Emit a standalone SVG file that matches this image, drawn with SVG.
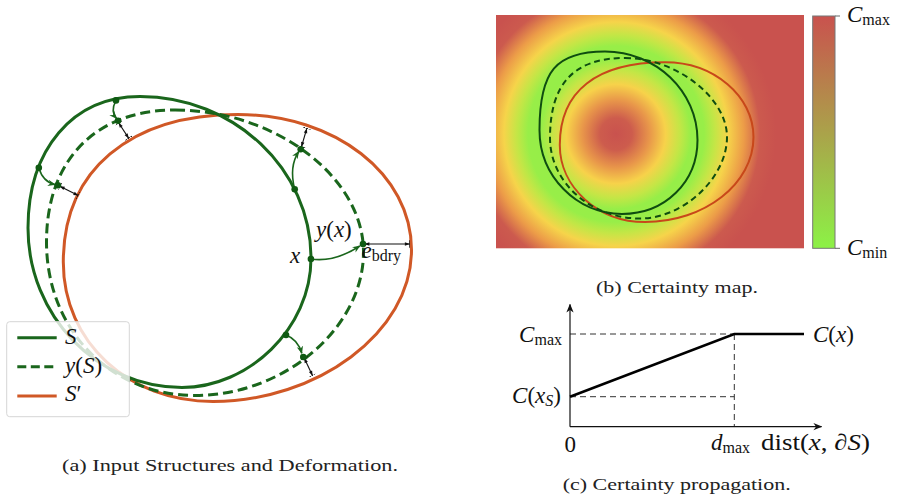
<svg xmlns="http://www.w3.org/2000/svg" width="901" height="504" viewBox="0 0 901 504">
<defs>
<style>
.math{font-family:"Liberation Serif","Times New Roman",serif;font-size:23px;fill:#111}
.it{font-style:italic}
.sub{font-size:16px}
.cap{font-family:"Liberation Serif","Times New Roman",serif;font-size:17px;fill:#222}
.S{fill:none;stroke:#1a661c;stroke-width:3}
.yS{fill:none;stroke:#1a661c;stroke-width:3;stroke-dasharray:10 5}
.Sp{fill:none;stroke:#d05826;stroke-width:3}
.bS{fill:none;stroke:#0f4d10;stroke-width:2}
.byS{fill:none;stroke:#0f4d10;stroke-width:2;stroke-dasharray:6 4}
.bSp{fill:none;stroke:#c8481a;stroke-width:2}
.map{fill:none;stroke:#1a661c;stroke-width:1.6;marker-end:url(#gArrow)}
.err{fill:none;stroke:#111;stroke-width:1.1;marker-start:url(#errEnd);marker-end:url(#errEnd)}
.dot{fill:#0f5a12}
.axis{fill:none;stroke:#111;stroke-width:1.2;marker-end:url(#axArrow)}
.guide{fill:none;stroke:#333;stroke-width:1;stroke-dasharray:6 4}
</style>
<marker id="gArrow" viewBox="0 0 10 10" refX="9" refY="5" markerWidth="8" markerHeight="8" markerUnits="userSpaceOnUse" orient="auto"><path d="M0,1 L10,5 L0,9 L3,5 Z" fill="#1a661c"/></marker>
<marker id="errEnd" viewBox="0 0 10 12" refX="10" refY="6" markerWidth="7" markerHeight="8.4" markerUnits="userSpaceOnUse" orient="auto-start-reverse"><path d="M3,3.5 L10,6 L3,8.5 Z" fill="#111"/><path d="M10,0.5 V11.5" stroke="#111" stroke-width="1.5"/></marker>
<marker id="axArrow" viewBox="0 0 10 10" refX="9" refY="5" markerWidth="9" markerHeight="9" markerUnits="userSpaceOnUse" orient="auto"><path d="M0,1 L10,5 L0,9 L3,5 Z" fill="#111"/></marker>
<radialGradient id="heat" gradientUnits="userSpaceOnUse" cx="616" cy="134" r="160">
<stop offset="0" stop-color="#c9524e"/>
<stop offset="0.1" stop-color="#cd5c4d"/>
<stop offset="0.21" stop-color="#e8964a"/>
<stop offset="0.31" stop-color="#f7d24a"/>
<stop offset="0.4" stop-color="#c4e646"/>
<stop offset="0.47" stop-color="#96ee48"/>
<stop offset="0.55" stop-color="#98ee48"/>
<stop offset="0.62" stop-color="#c4e646"/>
<stop offset="0.7" stop-color="#f6d44a"/>
<stop offset="0.8" stop-color="#ec9c48"/>
<stop offset="0.9" stop-color="#cc5a4e"/>
<stop offset="1" stop-color="#c9524e"/>
</radialGradient>
<linearGradient id="cbar" x1="0" y1="0" x2="0" y2="1">
<stop offset="0" stop-color="#c9524e"/>
<stop offset="1" stop-color="#8cf246"/>
</linearGradient>
</defs>
<rect width="901" height="504" fill="#fff"/>

<!-- Panel (a) -->
<g id="panel-a">
<g id="curve-Sprime">
<path class="Sp" d="M238,114.5 C335.2,114.5 411.5,174.1 411.5,250 C411.5,333.3 316.2,401.5 213,401.5 C129.2,401.5 63.3,342.9 63.3,262 C63.3,170.6 129.7,114.5 238,114.5 Z"/>
</g>
<g id="curve-yS">
<path class="yS" d="M175,110 C275,110 363.5,177 363.5,252 C363.5,328 284.3,395.5 195,395.5 C110.4,395.5 46.5,329.5 46.5,242 C46.5,160.2 95.3,110 175,110 Z"/>
</g>
<g id="curve-S">
<path class="S" d="M140,96.5 C234,96.5 311,169.2 311,258 C311,329 248,387.5 182,387.5 C97.3,387.5 28,315.7 28,228 C28,149.1 72.8,96.5 140,96.5 Z"/>
</g>
<g id="connectors">
<path class="map" d="M116,100.4 C112,108 112.5,114 116.5,118.5"/>
<path class="map" d="M38.8,167.7 C41.5,177 46,182.5 55,184.6"/>
<path class="map" d="M294.7,189.3 C291,175 292.5,161 298.8,151.5"/>
<path class="map" d="M310.7,259 C330,262 346,255 359.8,246"/>
<path class="map" d="M286,335 C294,338 299.5,345 301.8,353.3"/>
<path class="err" d="M118.6,122.8 L128.8,138.4"/>
<path class="err" d="M59.8,186.2 L78.3,195.6"/>
<path class="err" d="M301.4,147 L306.9,128.2"/>
<path class="err" d="M364.5,244 L409.8,244"/>
<path class="err" d="M304.2,358 L312.6,375.8"/>
</g>
<g id="dots">
<circle class="dot" cx="116" cy="100.4" r="3.3"/>
<circle class="dot" cx="118" cy="120.7" r="3.3"/>
<circle class="dot" cx="38.8" cy="167.7" r="3.3"/>
<circle class="dot" cx="57.9" cy="185.3" r="3.3"/>
<circle class="dot" cx="294.7" cy="189.3" r="3.3"/>
<circle class="dot" cx="300.7" cy="149.3" r="3.3"/>
<circle class="dot" cx="310.9" cy="259" r="3.3"/>
<circle class="dot" cx="363" cy="244" r="3.3"/>
<circle class="dot" cx="286" cy="335" r="3.3"/>
<circle class="dot" cx="303.3" cy="357" r="3.3"/>
</g>
<g id="labels-a">
<text class="math" x="316" y="237"><tspan class="it">y</tspan>(<tspan class="it">x</tspan>)</text>
<text class="math it" x="290" y="263">x</text>
<text class="math" x="361.5" y="258"><tspan class="it">e</tspan><tspan class="sub" dy="3">bdry</tspan></text>
</g>
<g id="legend">
<rect x="6.7" y="321.7" width="122.6" height="95" rx="3" fill="#fff" fill-opacity="0.8" stroke="#d6d6d6" stroke-width="1"/>
<line class="S" x1="17.3" y1="337.7" x2="56.7" y2="337.7"/>
<line class="yS" x1="17.3" y1="366.7" x2="56.7" y2="366.7" style="stroke-dasharray:9 4.5"/>
<line class="Sp" x1="17.3" y1="396" x2="56.7" y2="396"/>
<text class="math it" x="65" y="343.5" font-size="24">S</text>
<text class="math" x="65" y="372.5" font-size="24"><tspan class="it">y</tspan>(<tspan class="it">S</tspan>)</text>
<text class="math" x="65" y="400.5" font-size="24"><tspan class="it">S</tspan>′</text>
</g>
<text class="cap" x="62" y="470.7" textLength="336" lengthAdjust="spacingAndGlyphs">(a) Input Structures and Deformation.</text>
</g>

<!-- Panel (b) -->
<g id="panel-b">
<rect id="heatmap" x="496" y="15" width="308" height="233.3" fill="url(#heat)"/>
<g id="contours-b">
<path class="bSp" d="M665,62.3 C713.7,62.3 753.5,95.9 753.5,137 C753.5,183.8 704.7,222 645,222 C598.1,222 559.8,187.4 559.8,145 C559.8,91.2 596.6,62.3 665,62.3 Z"/>
<path class="byS" d="M625,58 C676,58 727,97.5 727,137 C727,177.8 683.5,218.5 640,218.5 C590.5,218.5 550,182.3 550,138 C550,83.6 574,58 625,58 Z"/>
<path class="bS" d="M605,51.5 C655.9,51.5 697.5,91.3 697.5,140 C697.5,182.2 665,214 622,214 C576.6,214 539.5,176.2 539.5,130 C539.5,71.1 555.9,51.5 605,51.5 Z"/>
</g>
<g id="colorbar">
<rect x="812.7" y="16" width="22.3" height="232.3" fill="url(#cbar)" stroke="#777" stroke-width="1"/>
<line x1="835" y1="16" x2="840" y2="16" stroke="#666" stroke-width="1"/>
<line x1="835" y1="248.3" x2="840" y2="248.3" stroke="#666" stroke-width="1"/>
<text class="math" x="847" y="22"><tspan class="it">C</tspan><tspan class="sub" dy="3">max</tspan></text>
<text class="math" x="847" y="255"><tspan class="it">C</tspan><tspan class="sub" dy="3">min</tspan></text>
</g>
<text class="cap" x="596" y="293" textLength="162" lengthAdjust="spacingAndGlyphs">(b) Certainty map.</text>
</g>

<!-- Panel (c) -->
<g id="panel-c">
<g id="guides">
<path class="guide" d="M570,334 H734.3"/>
<path class="guide" d="M570,396.7 H734.3"/>
<path class="guide" d="M734.3,334 V426.7"/>
</g>
<g id="axes">
<path class="axis" d="M570,426.7 V304.5"/>
<path class="axis" d="M570,426.7 H821.5"/>
</g>
<path id="certainty-curve" d="M570,396.7 L734.3,334 H804" fill="none" stroke="#000" stroke-width="2.6"/>
<g id="labels-c">
<text class="math" x="562" y="341.7" text-anchor="end"><tspan class="it">C</tspan><tspan class="sub" dy="3">max</tspan></text>
<text class="math" x="561" y="403.3" text-anchor="end"><tspan class="it">C</tspan>(<tspan class="it">x</tspan><tspan class="it sub" dy="3">S</tspan><tspan dy="-3">)</tspan></text>
<text class="math" x="813" y="341.7"><tspan class="it">C</tspan>(<tspan class="it">x</tspan>)</text>
<text class="math" x="564.5" y="451.5">0</text>
<text class="math" x="711" y="450"><tspan class="it">d</tspan><tspan class="sub" dy="3">max</tspan></text>
<text class="math" x="761" y="450" textLength="109" lengthAdjust="spacingAndGlyphs">dist(<tspan class="it">x</tspan>, ∂<tspan class="it">S</tspan>)</text>
</g>
<text class="cap" x="562.7" y="490" textLength="228" lengthAdjust="spacingAndGlyphs">(c) Certainty propagation.</text>
</g>
</svg>
